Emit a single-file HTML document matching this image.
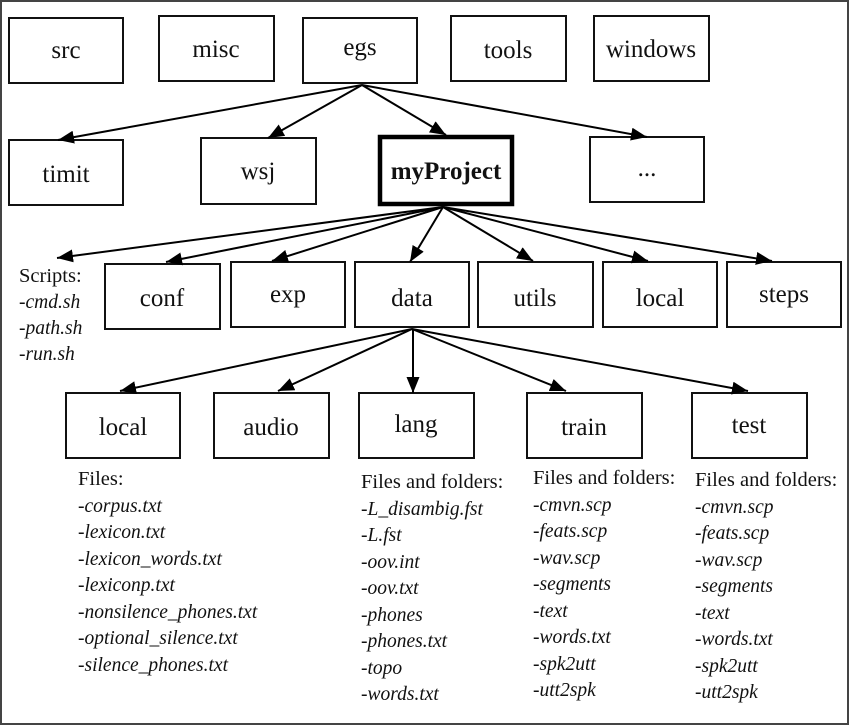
<!DOCTYPE html>
<html><head><meta charset="utf-8"><style>
html,body{margin:0;padding:0;background:#fff}
svg{display:block}
text{font-family:"Liberation Serif",serif;fill:#111}
.b{font-size:25px}
.l{font-size:19.5px;font-style:italic}
.h{font-size:20.5px}
</style></head><body>
<svg width="850" height="726" viewBox="0 0 850 726" xmlns="http://www.w3.org/2000/svg">
<defs>
<marker id="m" viewBox="0 0 16 13" markerWidth="16" markerHeight="13" refX="16" refY="6.5" orient="auto" markerUnits="userSpaceOnUse"><path d="M0,0 L16,6.5 L0,13 z" fill="#000"/></marker></defs>
<rect x="1" y="1" width="847" height="723" fill="none" stroke="#444" stroke-width="2"/>
<g fill="#fff" stroke="#111" stroke-width="2">
<rect x="9" y="18" width="114" height="65"/>
<rect x="159" y="16" width="115" height="65"/>
<rect x="303" y="18" width="114" height="65"/>
<rect x="451" y="16" width="115" height="65"/>
<rect x="594" y="16" width="115" height="65"/>
<rect x="9" y="140" width="114" height="65"/>
<rect x="201" y="138" width="115" height="66"/>
<rect x="590" y="137" width="114" height="65"/>
<rect x="105" y="264" width="115" height="65"/>
<rect x="231" y="262" width="114" height="65"/>
<rect x="355" y="262" width="114" height="65"/>
<rect x="478" y="262" width="115" height="65"/>
<rect x="603" y="262" width="114" height="65"/>
<rect x="727" y="262" width="114" height="65"/>
<rect x="66" y="393" width="114" height="65"/>
<rect x="214" y="393" width="115" height="65"/>
<rect x="359" y="393" width="115" height="65"/>
<rect x="527" y="393" width="115" height="65"/>
<rect x="692" y="393" width="115" height="65"/>
</g>
<rect x="380" y="137" width="132" height="67" fill="#fff" stroke="#000" stroke-width="4.5"/>
<g stroke="#000" stroke-width="2" fill="none" marker-end="url(#m)">
<line x1="362" y1="85" x2="58" y2="140"/>
<line x1="362" y1="85" x2="268" y2="138"/>
<line x1="362" y1="85" x2="446" y2="135"/>
<line x1="362" y1="85" x2="647" y2="137"/>
<line x1="443" y1="207" x2="57" y2="258"/>
<line x1="443" y1="207" x2="166" y2="262"/>
<line x1="443" y1="207" x2="272" y2="261"/>
<line x1="443" y1="207" x2="410" y2="262"/>
<line x1="443" y1="207" x2="533" y2="261"/>
<line x1="443" y1="207" x2="648" y2="261"/>
<line x1="443" y1="207" x2="772" y2="261"/>
<line x1="412" y1="329" x2="120" y2="391"/>
<line x1="412" y1="329" x2="278" y2="391"/>
<line x1="413" y1="329" x2="413" y2="393"/>
<line x1="412" y1="329" x2="566" y2="391"/>
<line x1="412" y1="329" x2="748" y2="391"/>
</g>
<g class="b" text-anchor="middle">
<text x="66" y="58">src</text>
<text x="216" y="57">misc</text>
<text x="360" y="55">egs</text>
<text x="508" y="58">tools</text>
<text x="651" y="57">windows</text>
<text x="66" y="182">timit</text>
<text x="258" y="179">wsj</text>
<text x="446" y="179" style="font-weight:bold;font-size:25px">myProject</text>
<text x="647" y="176">...</text>
<text x="162" y="306">conf</text>
<text x="288" y="302">exp</text>
<text x="412" y="306">data</text>
<text x="535" y="306">utils</text>
<text x="660" y="306">local</text>
<text x="784" y="302">steps</text>
<text x="123" y="435">local</text>
<text x="271" y="435">audio</text>
<text x="416" y="432">lang</text>
<text x="584" y="435">train</text>
<text x="749" y="433">test</text>
</g>
<text class="h" x="19" y="282">Scripts:</text>
<text class="l" x="19" y="308">-cmd.sh</text>
<text class="l" x="19" y="334">-path.sh</text>
<text class="l" x="19" y="360">-run.sh</text>
<text class="h" x="78" y="485">Files:</text>
<g class="l">
<text x="78" y="512">-corpus.txt</text>
<text x="78" y="538">-lexicon.txt</text>
<text x="78" y="565">-lexicon_words.txt</text>
<text x="78" y="591">-lexiconp.txt</text>
<text x="78" y="618">-nonsilence_phones.txt</text>
<text x="78" y="644">-optional_silence.txt</text>
<text x="78" y="671">-silence_phones.txt</text>
</g>
<text class="h" x="361" y="488">Files and folders:</text>
<g class="l">
<text x="361" y="515">-L_disambig.fst</text>
<text x="361" y="541">-L.fst</text>
<text x="361" y="568">-oov.int</text>
<text x="361" y="594">-oov.txt</text>
<text x="361" y="621">-phones</text>
<text x="361" y="647">-phones.txt</text>
<text x="361" y="674">-topo</text>
<text x="361" y="700">-words.txt</text>
</g>
<text class="h" x="533" y="484">Files and folders:</text>
<g class="l">
<text x="533" y="511">-cmvn.scp</text>
<text x="533" y="537">-feats.scp</text>
<text x="533" y="564">-wav.scp</text>
<text x="533" y="590">-segments</text>
<text x="533" y="617">-text</text>
<text x="533" y="643">-words.txt</text>
<text x="533" y="670">-spk2utt</text>
<text x="533" y="696">-utt2spk</text>
</g>
<text class="h" x="695" y="486">Files and folders:</text>
<g class="l">
<text x="695" y="513">-cmvn.scp</text>
<text x="695" y="539">-feats.scp</text>
<text x="695" y="566">-wav.scp</text>
<text x="695" y="592">-segments</text>
<text x="695" y="619">-text</text>
<text x="695" y="645">-words.txt</text>
<text x="695" y="672">-spk2utt</text>
<text x="695" y="698">-utt2spk</text>
</g>
</svg>
</body></html>
